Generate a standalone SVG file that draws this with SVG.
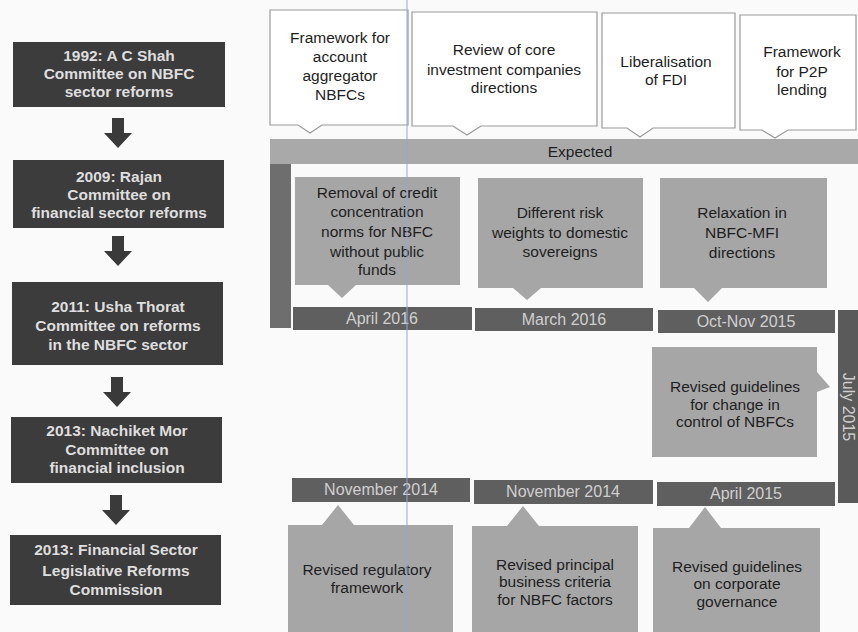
<svg xmlns="http://www.w3.org/2000/svg" width="858" height="632" viewBox="0 0 858 632">
<style>
.dk{fill:#3c3c3c}
.dkt{font-family:"Liberation Sans",Arial,sans-serif;font-size:15.5px;font-weight:bold;fill:#dedede;text-anchor:middle}
.wc{fill:#ffffff;stroke:#9a9a9a;stroke-width:1.2}
.gc{fill:#a6a6a6}
.t{font-family:"Liberation Sans",Arial,sans-serif;font-size:15.5px;fill:#1e1e1e;text-anchor:middle}
.db{fill:#5f5f5f}
.dt{font-family:"Liberation Sans",Arial,sans-serif;font-size:16px;fill:#cfcfcf;text-anchor:middle}
.arr{fill:#3a3a3a}
</style>
<rect width="858" height="632" fill="#fafafa"/>

<!-- left committees -->
<g id="c1992"><rect class="dk" x="13" y="42" width="212" height="65"/>
<text class="dkt"><tspan x="119" y="61">1992: A C Shah</tspan><tspan x="119" y="79">Committee on NBFC</tspan><tspan x="119" y="97">sector reforms</tspan></text></g>
<g id="c2009"><rect class="dk" x="13" y="160" width="211" height="68"/>
<text class="dkt"><tspan x="119" y="182">2009: Rajan</tspan><tspan x="119" y="200">Committee on</tspan><tspan x="119" y="218">financial sector reforms</tspan></text></g>
<g id="c2011"><rect class="dk" x="12" y="282" width="211" height="83"/>
<text class="dkt"><tspan x="118" y="312">2011: Usha Thorat</tspan><tspan x="118" y="331">Committee on reforms</tspan><tspan x="118" y="350">in the NBFC sector</tspan></text></g>
<g id="c2013a"><rect class="dk" x="11" y="417" width="211" height="66"/>
<text class="dkt"><tspan x="117" y="436">2013: Nachiket Mor</tspan><tspan x="117" y="455">Committee on</tspan><tspan x="117" y="473">financial inclusion</tspan></text></g>
<g id="c2013b"><rect class="dk" x="10" y="535" width="211" height="70"/>
<text class="dkt"><tspan x="116" y="555">2013: Financial Sector</tspan><tspan x="116" y="576">Legislative Reforms</tspan><tspan x="116" y="595">Commission</tspan></text></g>

<g id="connectors">
<path class="arr" d="M112,118 H124 V133 H132 L118,148 L104,133 H112 Z"/>
<path class="arr" d="M112,236 H124 V251 H132 L118,266 L104,251 H112 Z"/>
<path class="arr" d="M111,377 H123 V392 H131 L117,407 L103,392 H111 Z"/>
<path class="arr" d="M110,495 H122 V510 H130 L116,525 L102,510 H110 Z"/>
</g>

<!-- expected callouts -->
<g id="e1"><path class="wc" d="M270,10 H408 V125 H322 L310,133 L298,125 H270 Z"/>
<text class="t"><tspan x="340" y="43">Framework for</tspan><tspan x="340" y="62">account</tspan><tspan x="340" y="81">aggregator</tspan><tspan x="340" y="100">NBFCs</tspan></text></g>
<g id="e2"><path class="wc" d="M412,12 H597 V126 H481 L467,135 L453,126 H412 Z"/>
<text class="t"><tspan x="504" y="55">Review of core</tspan><tspan x="504" y="75">investment companies</tspan><tspan x="504" y="93">directions</tspan></text></g>
<g id="e3"><path class="wc" d="M602,13 H735 V128 H653 L640,137 L627,128 H602 Z"/>
<text class="t"><tspan x="666" y="67">Liberalisation</tspan><tspan x="666" y="85">of FDI</tspan></text></g>
<g id="e4"><path class="wc" d="M740,15 H856 V130 H788 L775,138 L762,130 H740 Z"/>
<text class="t"><tspan x="802" y="57">Framework</tspan><tspan x="802" y="77">for P2P</tspan><tspan x="802" y="95">lending</tspan></text></g>

<g id="expected"><rect x="270" y="139" width="588" height="25" fill="#a9a9a9"/>
<text class="t" x="580" y="157">Expected</text></g>
<g id="leftbar"><rect x="270" y="164" width="21" height="164" fill="#6e6e6e"/></g>

<!-- upper gray callouts -->
<g id="u1"><path class="gc" d="M295,177 H460 V285 H356 L342,298 L328,285 H295 Z"/>
<text class="t"><tspan x="377" y="198">Removal of credit</tspan><tspan x="377" y="217">concentration</tspan><tspan x="377" y="237">norms for NBFC</tspan><tspan x="377" y="257">without public</tspan><tspan x="377" y="275">funds</tspan></text></g>
<g id="u2"><path class="gc" d="M478,178 H643 V288 H541 L527,300 L513,288 H478 Z"/>
<text class="t"><tspan x="560" y="218">Different risk</tspan><tspan x="560" y="238">weights to domestic</tspan><tspan x="560" y="257">sovereigns</tspan></text></g>
<g id="u3"><path class="gc" d="M660,178 H827 V288 H722 L708,302 L694,288 H660 Z"/>
<text class="t"><tspan x="742" y="218">Relaxation in</tspan><tspan x="742" y="238">NBFC-MFI</tspan><tspan x="742" y="258">directions</tspan></text></g>

<g id="d1"><rect class="db" x="293" y="307" width="179" height="23"/><text class="dt" x="382" y="324">April 2016</text></g>
<g id="d2"><rect class="db" x="475" y="308" width="178" height="23"/><text class="dt" x="564" y="325">March 2016</text></g>
<g id="d3"><rect class="db" x="658" y="310" width="177" height="23"/><text class="dt" x="746" y="327">Oct-Nov 2015</text></g>

<g id="july"><rect x="838" y="310" width="20" height="193" fill="#5a5a5a"/>
<text class="dt" transform="translate(848,407) rotate(90)" x="0" y="5">July 2015</text></g>

<g id="m1"><path class="gc" d="M652,347 H817 V372 L830,387 L817,392 V457 H652 Z"/>
<text class="t"><tspan x="735" y="392">Revised guidelines</tspan><tspan x="735" y="410">for change in</tspan><tspan x="735" y="427">control of NBFCs</tspan></text></g>

<g id="d4"><rect class="db" x="292" y="478" width="178" height="24"/><text class="dt" x="381" y="495">November  2014</text></g>
<g id="d5"><rect class="db" x="474" y="480" width="179" height="24"/><text class="dt" x="563" y="497">November 2014</text></g>
<g id="d6"><rect class="db" x="657" y="482" width="178" height="24"/><text class="dt" x="746" y="499">April 2015</text></g>

<!-- lower gray callouts -->
<g id="b1"><path class="gc" d="M288,525 H322 L338,505 L354,525 H453 V632 H288 Z"/>
<text class="t"><tspan x="367" y="575">Revised regulatory</tspan><tspan x="367" y="593">framework</tspan></text></g>
<g id="b2"><path class="gc" d="M472,526 H507 L523,506 L539,526 H638 V632 H472 Z"/>
<text class="t"><tspan x="555" y="570">Revised principal</tspan><tspan x="555" y="587">business criteria</tspan><tspan x="555" y="605">for NBFC factors</tspan></text></g>
<g id="b3"><path class="gc" d="M653,528 H689 L705,507 L721,528 H820 V632 H653 Z"/>
<text class="t"><tspan x="737" y="572">Revised guidelines</tspan><tspan x="737" y="589">on corporate</tspan><tspan x="737" y="607">governance</tspan></text></g>

<line x1="407" y1="0" x2="407" y2="632" stroke="#8fa6e0" stroke-width="1"/>
</svg>
